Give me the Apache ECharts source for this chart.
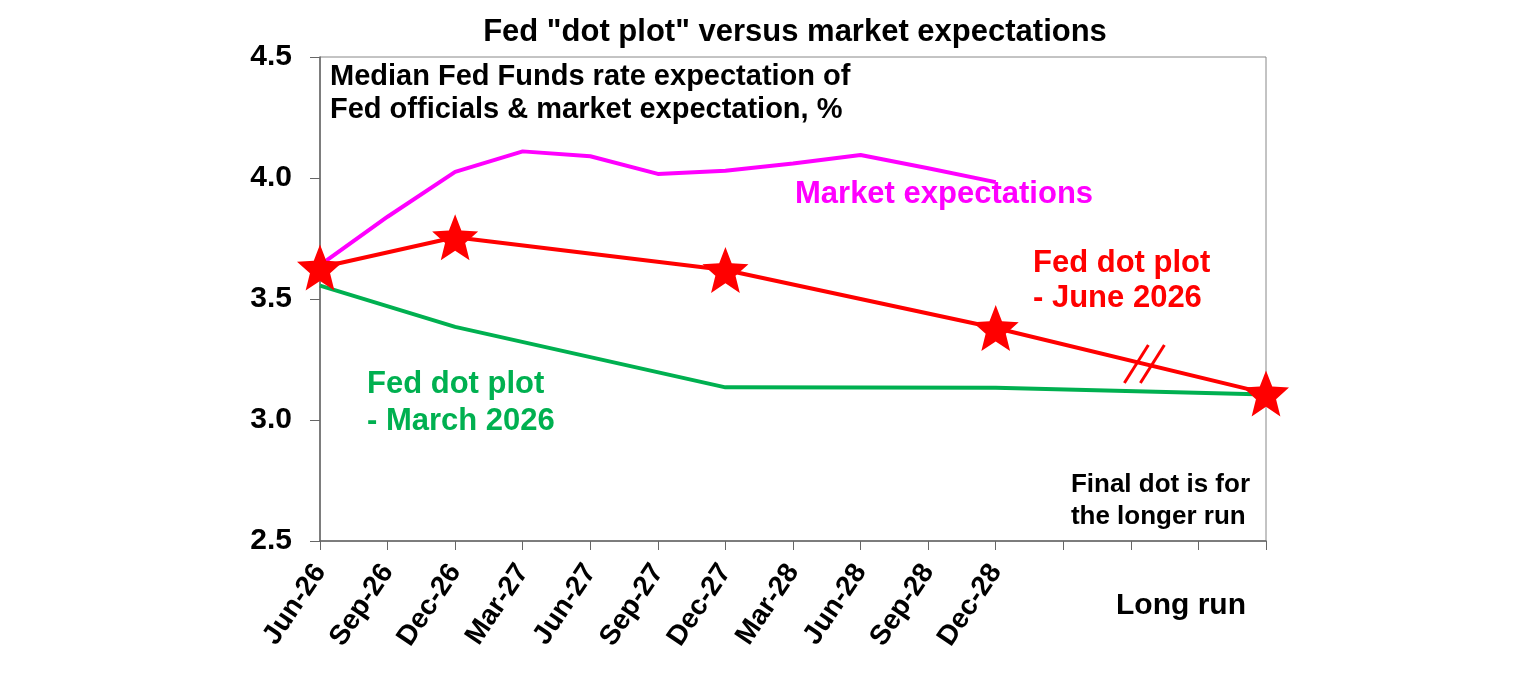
<!DOCTYPE html>
<html>
<head>
<meta charset="utf-8">
<script src="https://cdn.jsdelivr.net/npm/echarts@6/dist/echarts.min.js"></script>
<style>
  html, body { margin: 0; padding: 0; background: #fff; }
  #chart { width: 1536px; height: 680px; }
</style>
</head>
<body>
<div id="chart"></div>
<script>
// categories (blank slots before the long run point)
const categories = ['Jun-26', 'Sep-26', 'Dec-26', 'Mar-27', 'Jun-27', 'Sep-27', 'Dec-27',
  'Mar-28', 'Jun-28', 'Sep-28', 'Dec-28', '', '', '', 'Long run'];

// market pricing
const marketExp = [3.64, 3.84, 4.025, 4.11, 4.09, 4.017, 4.03, 4.06, 4.095, 4.04, 3.983,
  null, null, null, null];

// Fed dot plot - June 2026 (stars)
const dotJune = [3.63, null, 3.755, null, null, null, 3.62, null, null, null, 3.38,
  null, null, null, 3.11];

// Fed dot plot - March 2026
const dotMarch = [3.555, null, 3.385, null, null, null, 3.135, null, null, null, 3.133,
  null, null, null, 3.105];

const yTicks = { min: 2.5, max: 4.5, step: 0.5 };

const FONT = 'Liberation Sans, Arial, sans-serif';
const STAR = 'path://M50,0 L63,32 L98,34 L71,57 L80,91 L50,72 L20,91 L29,57 L2,34 L37,32 Z';

const chart = echarts.init(document.getElementById('chart'));

const option = {
  animation: false,
  backgroundColor: '#fff',
  textStyle: { fontFamily: FONT },
  title: {
    text: 'Fed "dot plot" versus market expectations',
    left: 790,
    textAlign: 'center',
    top: 12,
    textStyle: { fontFamily: FONT, fontSize: 31, fontWeight: 'bold', color: '#000' }
  },
  grid: {
    left: 320,
    right: 270,
    top: 57,
    bottom: 139,
    show: true,
    borderColor: '#888',
    borderWidth: 1
  },
  xAxis: {
    type: 'category',
    data: categories,
    boundaryGap: false,
    axisLine: { lineStyle: { color: '#666', width: 1.5 } },
    axisTick: { show: true, inside: false, length: 9, alignWithLabel: true, interval: 0,
      lineStyle: { color: '#666' } },
    axisLabel: {
      interval: 0,
      rotate: 56,
      margin: 26,
      fontSize: 28,
      fontWeight: 'bold',
      color: '#000',
      fontFamily: FONT,
      formatter: function (v) { return v === 'Long run' ? '' : v; }
    },
    splitLine: { show: false }
  },
  yAxis: {
    type: 'value',
    min: yTicks.min,
    max: yTicks.max,
    interval: yTicks.step,
    axisLine: { show: true, lineStyle: { color: '#666', width: 1.5 } },
    axisTick: { show: true, length: 10, lineStyle: { color: '#666' } },
    axisLabel: {
      fontSize: 30,
      fontWeight: 'bold',
      color: '#000',
      margin: 28,
      fontFamily: FONT,
      formatter: function (v) { return v.toFixed(1); }
    },
    splitLine: { show: false }
  },
  series: [
    {
      name: 'Fed dot plot - March 2026',
      type: 'line',
      data: dotMarch,
      connectNulls: true,
      showSymbol: false,
      lineStyle: { color: '#00B050', width: 4 },
      z: 2
    },
    {
      name: 'Market expectations',
      type: 'line',
      data: marketExp,
      showSymbol: false,
      lineStyle: { color: '#FF00FF', width: 4 },
      z: 2
    },
    {
      name: 'Fed dot plot - June 2026',
      type: 'line',
      data: dotJune,
      connectNulls: true,
      symbol: STAR,
      symbolSize: [46, 46],
      showAllSymbol: true,
      itemStyle: { color: '#FF0000' },
      lineStyle: { color: '#FF0000', width: 4 },
      z: 3
    }
  ],
  graphic: [
    {
      type: 'text', left: 330, top: 60,
      style: { text: 'Median Fed Funds rate expectation of\nFed officials & market expectation, %',
        font: 'bold 29px ' + FONT, fill: '#000', lineHeight: 33 }
    },
    {
      type: 'text', left: 795, top: 179,
      style: { text: 'Market expectations', font: 'bold 31px ' + FONT, fill: '#FF00FF' }
    },
    {
      type: 'text', left: 1033, top: 246,
      style: { text: 'Fed dot plot\n- June 2026', font: 'bold 31px ' + FONT, fill: '#FF0000', lineHeight: 35 }
    },
    {
      type: 'text', left: 367, top: 366,
      style: { text: 'Fed dot plot\n- March 2026', font: 'bold 31px ' + FONT, fill: '#00B050', lineHeight: 37 }
    },
    {
      type: 'text', right: 286, top: 469,
      style: { text: 'Final dot is for\nthe longer run', font: 'bold 26px ' + FONT, fill: '#000',
        lineHeight: 32, align: 'right' }
    },
    {
      type: 'text', left: 1116, top: 591,
      style: { text: 'Long run', font: 'bold 30px ' + FONT, fill: '#000' }
    }
  ]
};

chart.setOption(option);

// break marks "//" on the segment to the long run dot
const p1 = chart.convertToPixel({ seriesIndex: 2 }, [10, dotJune[10]]);
const p2 = chart.convertToPixel({ seriesIndex: 2 }, [14, dotJune[14]]);
const t = 0.55;
const mx = p1[0] + (p2[0] - p1[0]) * t;
const my = p1[1] + (p2[1] - p1[1]) * t;
const slash = function (dx) {
  return {
    type: 'line',
    shape: { x1: mx + dx - 12, y1: my + 19, x2: mx + dx + 12, y2: my - 19 },
    style: { stroke: '#FF0000', lineWidth: 3 },
    z: 10
  };
};
chart.setOption({ graphic: option.graphic.concat([slash(-8), slash(8)]) });
</script>
</body>
</html>
